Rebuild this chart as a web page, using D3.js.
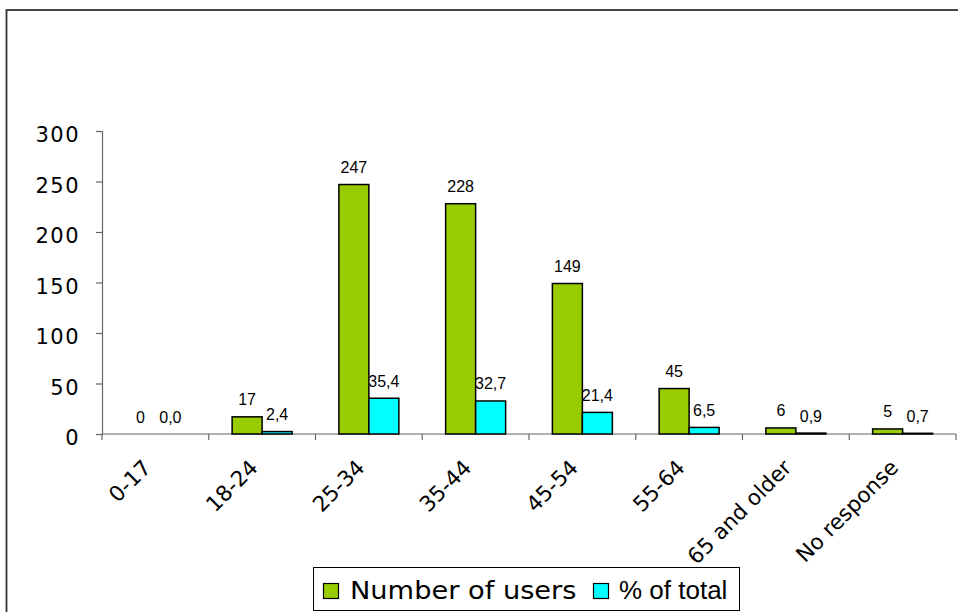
<!DOCTYPE html>
<html>
<head>
<meta charset="utf-8">
<script src="https://cdn.jsdelivr.net/npm/d3@7"></script>
<style>
  html, body { margin: 0; padding: 0; background: #fff; }
  svg { display: block; }
</style>
</head>
<body>
<svg id="chart" width="958" height="612"></svg>
<script>
const categories = ["0-17", "18-24", "25-34", "35-44", "45-54", "55-64", "65 and older", "No response"];
const numberOfUsers = [0, 17, 247, 228, 149, 45, 6, 5];
const percentOfTotal = [0.0, 2.4, 35.4, 32.7, 21.4, 6.5, 0.9, 0.7];
const seriesNames = ["Number of users", "% of total"];
const yTicks = [0, 50, 100, 150, 200, 250, 300];

const svg = d3.select("#chart");
const colors = ["#99CC00", "#00FFFF"];

// outer frame
svg.append("rect")
  .attr("x", 6.5).attr("y", 10).attr("width", 1000).attr("height", 700)
  .attr("fill", "none").attr("stroke", "#333").attr("stroke-width", 1.8);

const plot = { left: 102, right: 956, top: 131, bottom: 434 };

const x = d3.scaleBand().domain(categories).range([plot.left, plot.right]).paddingInner(0).paddingOuter(0);
const y = d3.scaleLinear().domain([0, 300]).range([plot.bottom, plot.top]);
const barW = x.bandwidth() * 0.281;
const xs = d3.scaleBand().domain([0, 1]).range([x.bandwidth() / 2 - barW, x.bandwidth() / 2 + barW]);

// y axis
const yAxis = d3.axisLeft(y).tickValues(yTicks).tickSize(6).tickFormat(d3.format("d"));
const gy = svg.append("g").attr("transform", `translate(${plot.left},0)`).call(yAxis);
gy.select(".domain").attr("stroke", "#666").attr("stroke-width", 1.2);
gy.selectAll(".tick line").attr("stroke", "#666").attr("stroke-width", 1.2);
gy.selectAll(".tick text")
  .attr("x", -22)
  .attr("dy", "0.37em")
  .attr("transform", "translate(0,3)")
  .attr("fill", "#000")
  .style("font-family", "'DejaVu Sans', Verdana, sans-serif")
  .style("font-size", "21px")
  .style("letter-spacing", "1.5px");

// x axis
const gx = svg.append("g").attr("transform", `translate(0,${plot.bottom})`);
gx.append("line").attr("x1", plot.left).attr("x2", plot.right).attr("y1", 0).attr("y2", 0)
  .attr("stroke", "#666").attr("stroke-width", 1.2);
const boundaries = categories.map(c => x(c)).concat([plot.right]);
gx.selectAll("line.tk").data(boundaries).enter().append("line").attr("class", "tk")
  .attr("x1", d => d).attr("x2", d => d).attr("y1", 0).attr("y2", 6)
  .attr("stroke", "#666").attr("stroke-width", 1.2);
gx.selectAll("text.lbl").data(categories).enter().append("text").attr("class", "lbl")
  .attr("transform", d => `translate(${x(d) + x.bandwidth() / 2 - 3},${35}) rotate(-45)`)
  .attr("text-anchor", "end")
  .style("font-family", "'DejaVu Sans', Verdana, sans-serif")
  .style("font-size", "21.5px")
  .attr("fill", "#000")
  .text(d => d);

// bars
const series = [numberOfUsers, percentOfTotal];
const fmt = [d3.format("d"), v => d3.format(".1f")(v).replace(".", ",")];
series.forEach((vals, si) => {
  const g = svg.append("g");
  g.selectAll("rect").data(categories.map((c, i) => ({ c, v: vals[i] }))).enter()
    .filter(d => d.v > 0)
    .append("rect")
    .attr("x", d => x(d.c) + xs(si))
    .attr("y", d => y(d.v))
    .attr("width", xs.bandwidth())
    .attr("height", d => plot.bottom - y(d.v))
    .attr("fill", colors[si])
    .attr("stroke", "#000")
    .attr("stroke-width", 1.5);
  g.selectAll("text").data(categories.map((c, i) => ({ c, v: vals[i] }))).enter()
    .append("text")
    .attr("x", d => x(d.c) + xs(si) + xs.bandwidth() / 2)
    .attr("y", d => y(d.v) - 11.5)
    .attr("text-anchor", "middle")
    .style("font-family", "'Liberation Sans', Arial, sans-serif")
    .style("font-size", "16px")
    .attr("fill", "#000")
    .text(d => fmt[si](d.v));
});

// legend
const lg = svg.append("g");
lg.append("rect").attr("x", 313.5).attr("y", 567.5).attr("width", 426).attr("height", 43)
  .attr("fill", "#fff").attr("stroke", "#000").attr("stroke-width", 1);
const legendItems = [
  { name: seriesNames[0], color: colors[0], sx: 323, tx: 350, font: "'DejaVu Sans', Verdana, sans-serif", size: 25, scale: 1.09 },
  { name: seriesNames[1], color: colors[1], sx: 593, tx: 619, font: "'Liberation Sans', Arial, sans-serif", size: 26, scale: 1 }
];
legendItems.forEach(it => {
  lg.append("rect").attr("x", it.sx + 0.5).attr("y", 583.5).attr("width", 15).attr("height", 15)
    .attr("fill", it.color).attr("stroke", "#000").attr("stroke-width", 1.2);
  lg.append("text")
    .attr("transform", `translate(${it.tx},599) scale(${it.scale},1)`)
    .style("font-family", it.font)
    .style("font-size", it.size + "px")
    .style("white-space", "pre")
    .attr("fill", "#000")
    .text(it.name);
});
</script>
</body>
</html>
